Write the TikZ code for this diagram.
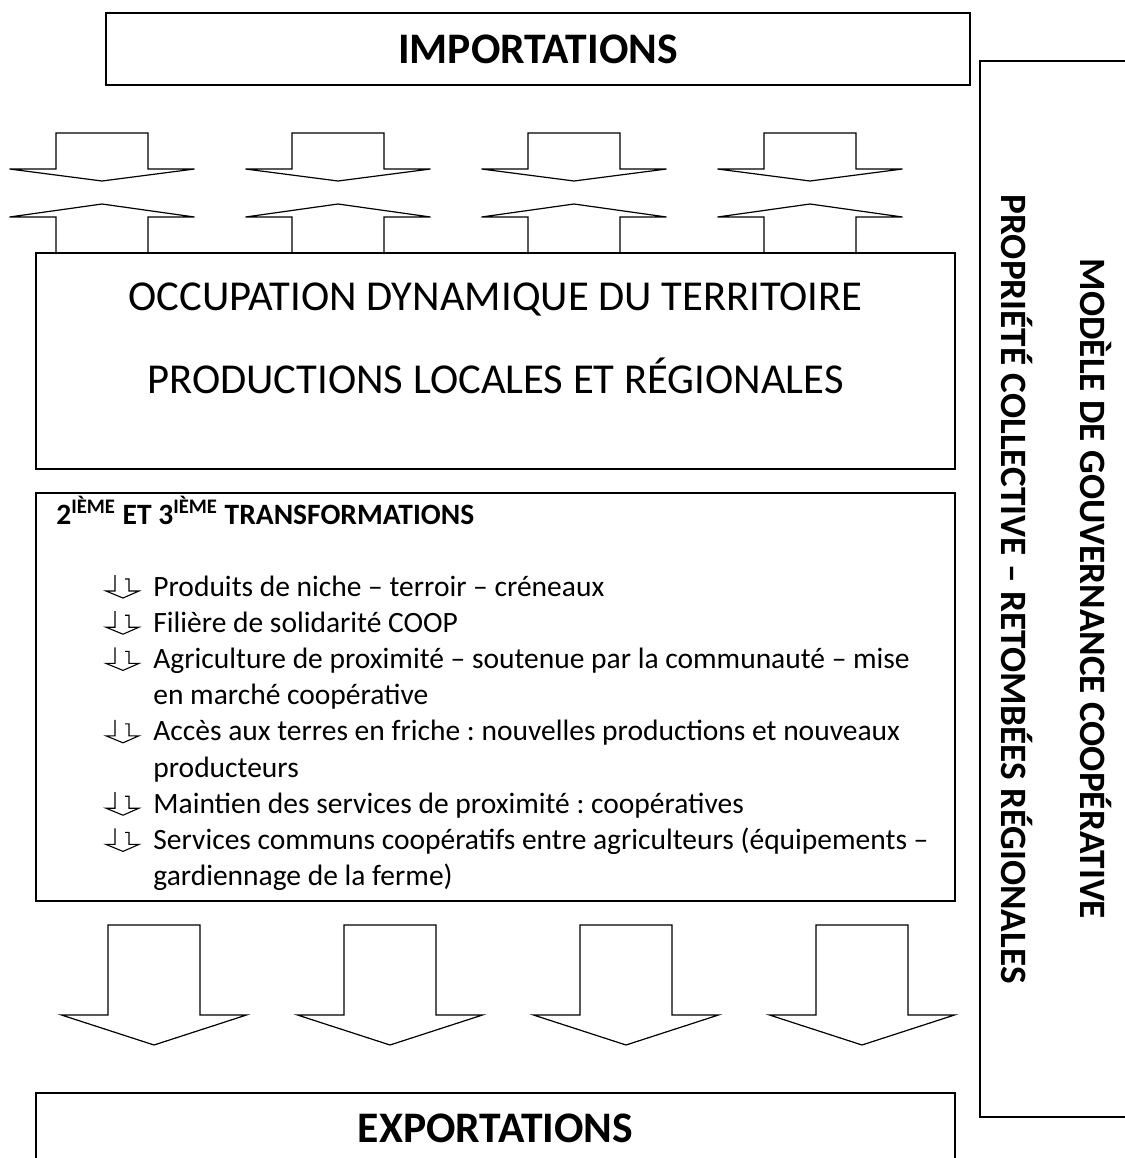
\documentclass[tikz,border=0pt]{standalone}
\usepackage{fontspec}
\setmainfont{Carlito}
\usetikzlibrary{positioning}
\frenchspacing

\begin{document}
\begin{tikzpicture}[x=0.5pt, y=-0.5pt,
    cadre/.style={draw, line width=0.85pt, inner sep=0pt},
    fleche/.style={draw, line width=0.6pt, line join=miter},
    titre/.style={inner sep=0pt, font=\bfseries\fontsize{21.8}{26}\selectfont},
    grand/.style={inner sep=0pt, font=\fontsize{21.3}{25}\selectfont},
    vertical/.style={inner sep=0pt, rotate=-90, anchor=base, font=\bfseries\fontsize{18.6}{22}\selectfont},
    ligne/.style={inner sep=0pt, anchor=base west, font=\fontsize{14.75}{18.1}\selectfont},
    puce/.pic={\draw[line width=0.55pt, line join=miter]
      (9,-23) -- (9,-7) -- (0,-7) -- (17,0) -- (33,-7) -- (23,-7) -- (23,-19) -- (19,-19);}]
\useasboundingbox (0,0) rectangle (1125,1158);

% haut
\node[cadre, titre, minimum width=432pt, minimum height=36pt] (imp) at (538,49) {IMPORTATIONS};

\foreach \c in {102,338,574,810} {
  \draw[fleche] (\c-46,133) -- (\c+46,133) -- (\c+46,169) -- (\c+92.5,169) -- (\c,181)
    -- (\c-92.5,169) -- (\c-46,169) -- cycle;
  \draw[fleche] (\c-46,253) -- (\c-46,217) -- (\c-92.5,217) -- (\c,204) -- (\c+92.5,217)
    -- (\c+46,217) -- (\c+46,253);
}

% territoire
\node[cadre, minimum width=459.5pt, minimum height=108pt] (occ) at (495.5,361) {};
\node[grand, anchor=base] (occ1) at (495.5,310.5) {OCCUPATION DYNAMIQUE DU TERRITOIRE};
\node[grand, anchor=base] (occ2) at (495.5,393.5) {PRODUCTIONS LOCALES ET RÉGIONALES};

% transformations
\node[cadre, minimum width=459.5pt, minimum height=204pt] (trans) at (495.5,697) {};
\node[inner sep=0pt, anchor=base west, font=\bfseries\fontsize{14.75}{18}\selectfont] (trtitre) at (56,524)
  {2\textsuperscript{IÈME} ET 3\textsuperscript{IÈME} TRANSFORMATIONS};

\foreach \txt [count=\i from 0] in {
    {Produits de niche – terroir – créneaux},
    {Filière de solidarité COOP},
    {Agriculture de proximité – soutenue par la communauté – mise},
    {en marché coopérative},
    {Accès aux terres en friche : nouvelles productions et nouveaux},
    {producteurs},
    {Maintien des services de proximité : coopératives},
    {Services communs coopératifs entre agriculteurs (équipements –},
    {gardiennage de la ferme)}}
  \node[ligne] (l\i) at (153,596+36.2*\i) {\txt};

\foreach \i in {0,1,2,4,6,7}
  \pic at (106,598+36.2*\i) {puce};

% bas
\foreach \c in {154,390,626,862}
  \draw[fleche] (\c-46,925) -- (\c+46,925) -- (\c+46,1015) -- (\c+92.5,1015) -- (\c,1045)
    -- (\c-92.5,1015) -- (\c-46,1015) -- cycle;

\node[cadre, minimum width=459.5pt, minimum height=60pt] (exp) at (495.5,1153) {};
\node[titre, anchor=base] (exptxt) at (495.5,1142) {EXPORTATIONS};

% gouvernance
\node[cadre, minimum width=80pt, minimum height=528pt] (gouv) at (1060,589) {};
\node[vertical] (modele) at (1080,589) {MODÈLE DE GOUVERNANCE COOPÉRATIVE};
\node[vertical] (propriete) at (1001,589) {PROPRIÉTÉ COLLECTIVE – RETOMBÉES RÉGIONALES};
\end{tikzpicture}
\end{document}
